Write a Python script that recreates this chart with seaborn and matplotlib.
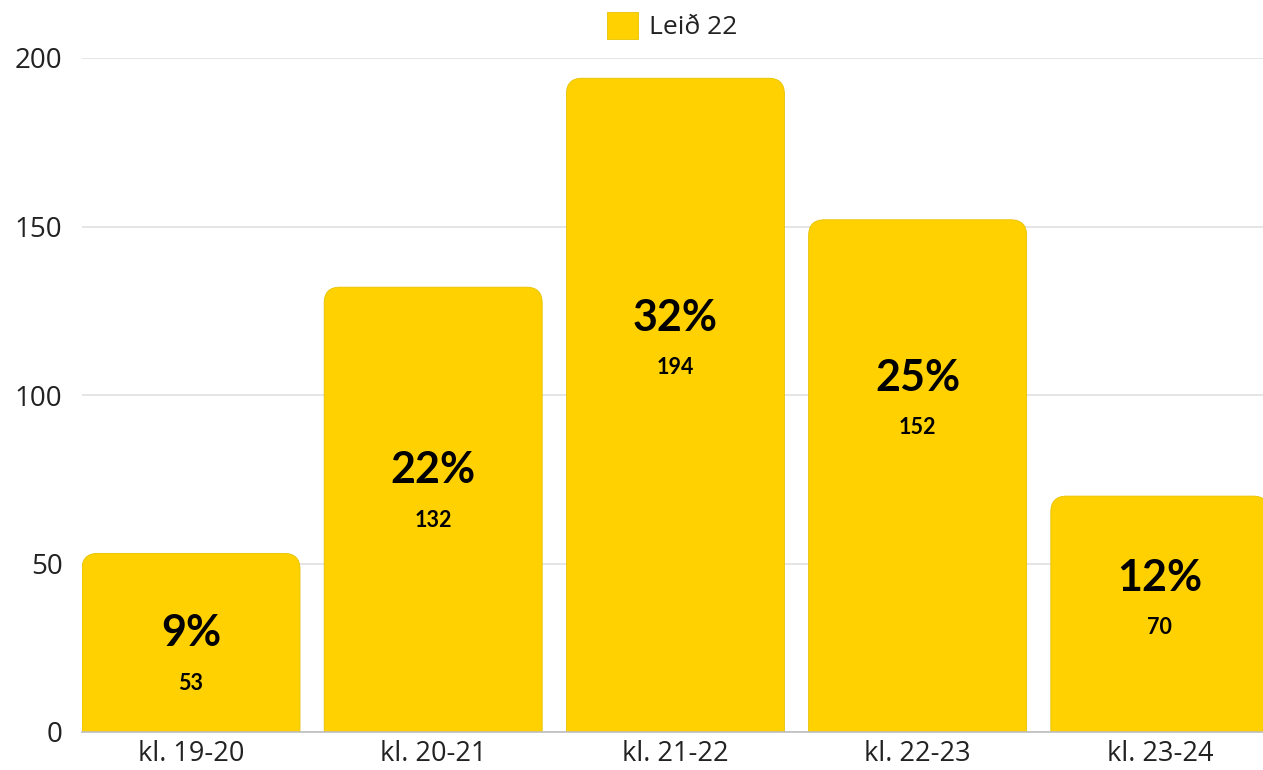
import matplotlib
matplotlib.use("Agg")
import matplotlib.pyplot as plt
import seaborn as sns
import pandas as pd
from matplotlib.patches import FancyBboxPatch, Patch

# Data
categories = ["kl. 19-20", "kl. 20-21", "kl. 21-22", "kl. 22-23", "kl. 23-24"]
values = [53, 132, 194, 152, 70]
series_name = "Leið 22"
yticks = [0, 50, 100, 150, 200]
# label positions (data units)
pct_label_y = [29.4, 77.7, 122.8, 105.0, 45.7]
cnt_label_y = [14.5, 62.9, 108.3, 90.5, 30.9]

BAR = "#FFD100"

sns.set_theme(style="white")
plt.rcParams["font.family"] = ["Open Sans", "DejaVu Sans"]

fig = plt.figure(figsize=(12.63, 7.70), dpi=100)
ax = fig.add_axes([82 / 1263, 1 - 732 / 770, 1 - 82 / 1263, (732 - 58) / 770])

df = pd.DataFrame({"cat": categories, "val": values})
sns.barplot(data=df, x="cat", y="val", color=BAR, width=0.9, saturation=1, ax=ax)

ax.set_xlim(-0.45, 4.426)
ax.set_ylim(0, 200)

# rounded top corners
px_x = (1263 - 82) / (4.426 + 0.45)
px_y = (732 - 58) / 200
asp = px_x / px_y
r = 0.065
for p in list(ax.patches):
    x, w, h = p.get_x(), p.get_width(), p.get_height()
    p.set_visible(False)
    fb = FancyBboxPatch((x, -r * asp), w, h + r * asp,
                        boxstyle=f"round,pad=0,rounding_size={r}",
                        mutation_aspect=asp, facecolor=BAR,
                        edgecolor="#e6c200", linewidth=0.6, zorder=2)
    ax.add_patch(fb)

total = sum(values)
for i, v in enumerate(values):
    ax.text(i, pct_label_y[i], f"{round(100 * v / total)}%", ha="center", va="center",
            fontsize=31, fontweight="bold", family=["Lato", "DejaVu Sans"], color="black", zorder=3)
    ax.text(i, cnt_label_y[i], f"{v}", ha="center", va="center",
            fontsize=15.5, fontweight="bold", family=["Lato", "DejaVu Sans"], color="black", zorder=3)

ax.set_yticks(yticks)
ax.yaxis.grid(True, color="#e0e0e0", linewidth=1.2, zorder=0)
ax.set_axisbelow(True)
ax.set_xlabel("")
ax.set_ylabel("")
for s in ["top", "right", "left"]:
    ax.spines[s].set_visible(False)
ax.spines["bottom"].set_color("#bdbdbd")
ax.spines["bottom"].set_linewidth(1.2)
ax.tick_params(axis="y", length=0, pad=14, labelsize=20, labelcolor="#222222")
ax.tick_params(axis="x", length=0, pad=6, labelsize=19.5, labelcolor="#222222")

handle = Patch(facecolor=BAR, edgecolor="#e6c200", linewidth=0.6)
fig.legend([handle], [series_name], loc="center", bbox_to_anchor=(672 / 1263, 1 - 26 / 770),
           frameon=False, fontsize=19, handlelength=1.2, handleheight=1.2,
           handletextpad=0.4, labelcolor="#222222")

fig.savefig("out.png", dpi=100)
